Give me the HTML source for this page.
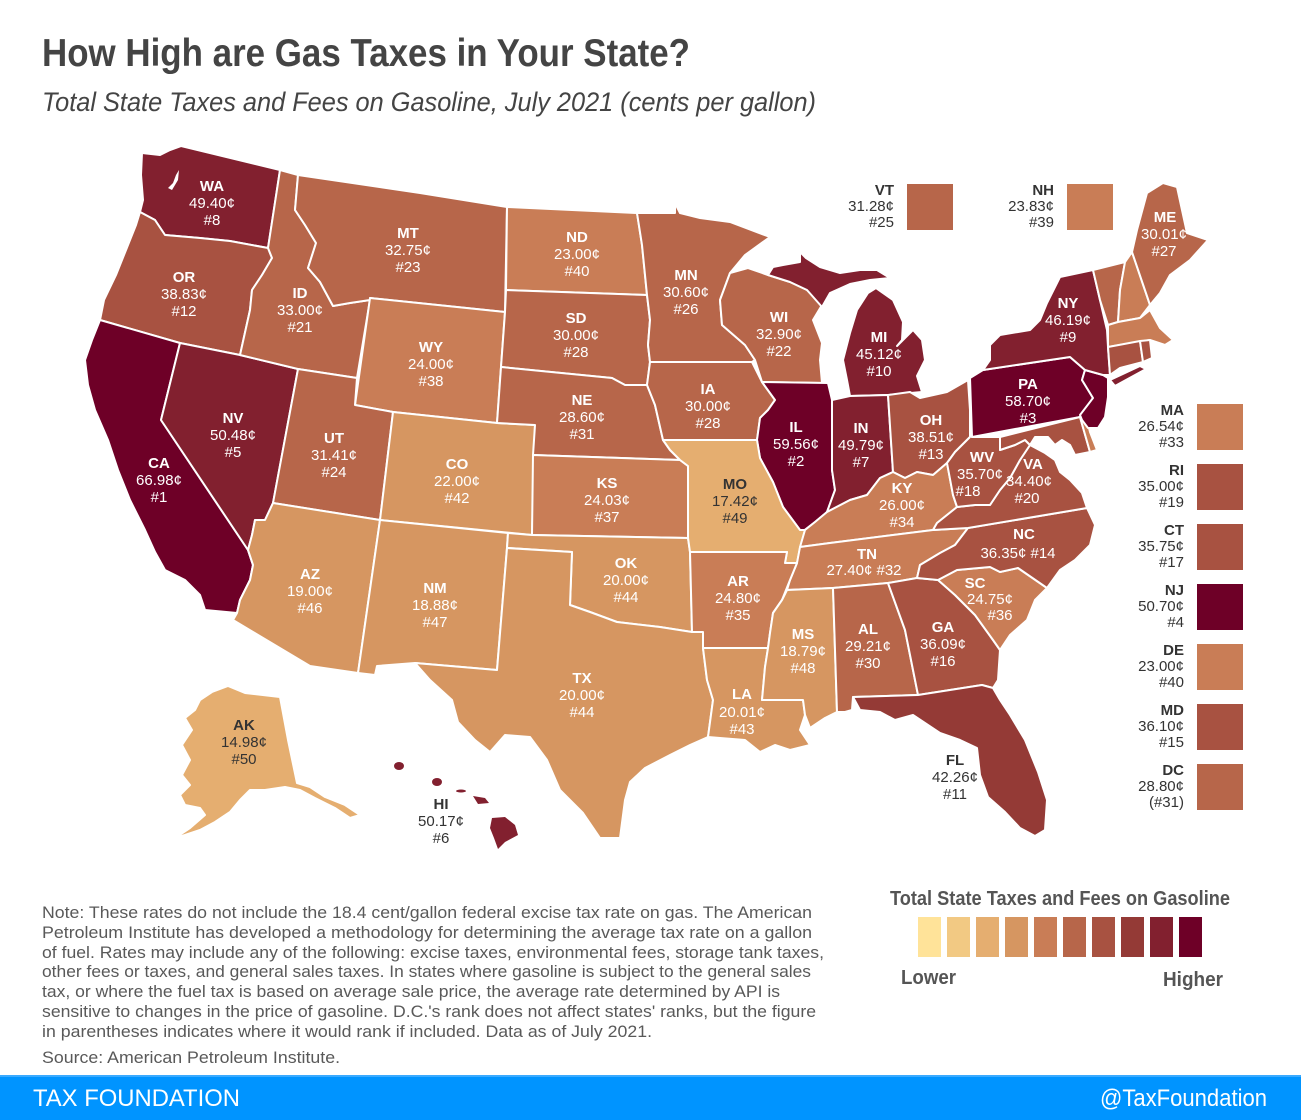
<!DOCTYPE html>
<html><head><meta charset="utf-8"><style>
html,body{margin:0;padding:0;background:#fff;}
svg{display:block;}
.st{stroke:#fff;stroke-width:2;stroke-linejoin:round;}
.c10{fill:#6E0027}.c9{fill:#82202F}.c8{fill:#943A36}.c7{fill:#A85241}.c6{fill:#B7664A}.c5{fill:#C97D56}.c4{fill:#D69661}.c3{fill:#E5AE70}
text{font-family:"Liberation Sans",Arial,sans-serif;}
.lb text{font-size:15px;text-anchor:middle;fill:#fff;}
.lb .a{font-weight:bold;}
.dk text{fill:#333;}
.sd text{font-size:15px;text-anchor:end;fill:#333;}
.sd .a{font-weight:bold;}
.nt{font-size:17px;fill:#595959;}
</style></head><body>
<svg width="1301" height="1120" viewBox="0 0 1301 1120" xmlns="http://www.w3.org/2000/svg">
<rect width="1301" height="1120" fill="#fff"/>
<text x="42" y="66" font-size="39" font-weight="bold" fill="#444" textLength="648" lengthAdjust="spacingAndGlyphs">How High are Gas Taxes in Your State?</text>
<text x="42" y="111" font-size="27" font-style="italic" fill="#444" textLength="774" lengthAdjust="spacingAndGlyphs">Total State Taxes and Fees on Gasoline, July 2021 (cents per gallon)</text>

<g class="st">
<!-- WA -->
<polygon class="c9" points="142,153 160,155 170,150 181,146 280,170 268,248 230,241 200,238 165,235 155,220 140,212 143,200 141,175"/>
<polygon fill="#fff" stroke="none" points="168,188 173,183 176,175 179,170 178,180 172,190"/>
<!-- OR -->
<polygon class="c7" points="140,212 155,220 165,235 200,238 230,241 268,248 272,258 262,275 252,290 250,310 240,355 180,343 100,320 104,300 116,275 128,245 136,225"/>
<!-- CA -->
<polygon class="c10" points="100,320 180,343 161,420 248,550 253,565 250,580 240,600 237,613 205,610 200,595 185,580 165,570 155,552 145,530 130,500 118,470 108,440 95,410 88,385 85,360 92,340"/>
<!-- NV -->
<polygon class="c9" points="180,343 240,355 298,369 273,503 265,520 255,520 252,535 248,550 161,420"/>
<!-- ID -->
<polygon class="c6" points="280,170 298,175 295,210 305,225 316,243 308,268 320,282 333,306 350,303 370,300 357,378 298,369 240,355 250,310 252,290 262,275 272,258 268,248"/>
<!-- MT -->
<polygon class="c6" points="298,175 420,193 507,207 505,312 370,298 370,300 350,303 333,306 320,282 308,268 316,243 305,225 295,210"/>
<!-- WY -->
<polygon class="c5" points="370,298 505,312 497,423 393,412 355,405"/>
<!-- UT -->
<polygon class="c6" points="298,369 357,378 355,405 393,412 380,520 273,503"/>
<!-- CO -->
<polygon class="c4" points="393,412 497,423 535,425 532,535 380,520"/>
<!-- AZ -->
<polygon class="c4" points="273,503 380,520 358,673 310,666 233,620 237,613 240,600 250,580 253,565 248,550 252,535 255,520 265,520"/>
<!-- NM -->
<polygon class="c4" points="380,520 508,533 507,548 497,670 415,663 377,666 375,675 358,673"/>
<!-- ND -->
<polygon class="c5" points="507,207 637,213 642,245 647,295 506,290"/>
<!-- SD -->
<polygon class="c6" points="506,290 647,295 650,320 648,345 650,362 647,385 625,385 612,378 501,367 505,312"/>
<!-- NE -->
<polygon class="c6" points="501,367 612,378 625,385 647,385 655,405 663,440 670,450 680,460 533,455 535,425 497,423"/>
<!-- KS -->
<polygon class="c5" points="533,455 680,460 688,466 688,538 532,535"/>
<!-- OK -->
<polygon class="c4" points="508,533 532,535 688,538 690,552 692,632 660,627 617,622 590,612 570,605 572,552 507,548"/>
<!-- TX -->
<polygon class="c4" points="507,548 572,552 570,605 590,612 617,622 660,627 692,632 703,632 703,648 707,680 713,700 708,737 690,745 670,755 645,768 630,782 625,800 620,838 600,838 583,813 560,790 547,760 530,737 505,735 490,752 475,740 458,722 452,700 430,680 415,663 497,670"/>
<!-- MN -->
<polygon class="c6" points="637,213 675,213 675,203 680,213 700,218 730,222 770,237 745,255 730,273 720,300 722,325 745,345 755,360 752,362 650,362 648,345 650,320 647,295 642,245"/>
<!-- IA -->
<polygon class="c6" points="650,362 752,362 762,382 775,400 768,410 760,418 757,440 663,440 655,405 647,385"/>
<!-- WI -->
<polygon class="c6" points="730,273 748,268 768,275 790,282 807,290 822,305 813,320 822,343 820,360 822,383 762,382 755,360 745,345 722,325 720,300"/>
<!-- MI UP -->
<polygon class="c9" points="768,275 773,267 783,265 800,262 800,252 806,258 820,267 840,273 860,270 877,270 890,278 870,280 850,284 830,293 822,307 807,290 790,282"/>
<!-- MI LP -->
<polygon class="c9" points="850,396 847,380 843,360 850,333 857,310 868,293 876,288 893,300 903,322 902,340 897,346 913,330 922,340 925,360 917,376 922,392 888,395"/>
<!-- IL -->
<polygon class="c10" points="762,382 828,383 832,400 832,470 835,490 827,512 815,522 802,532 800,530 783,507 773,482 760,458 757,440 760,418 768,410 775,400"/>
<!-- IN -->
<polygon class="c9" points="832,400 850,396 888,395 893,472 880,478 867,495 850,500 827,512 835,490 832,470"/>
<!-- OH -->
<polygon class="c7" points="888,395 910,392 920,398 947,392 968,380 970,410 970,437 955,452 947,463 933,475 917,472 905,478 893,472"/>
<!-- MO -->
<polygon class="c3" points="663,440 757,440 760,458 773,482 783,507 800,530 805,530 800,548 797,563 785,563 787,552 690,552 688,538 688,466 680,460 670,450"/>
<!-- KY -->
<polygon class="c5" points="800,547 805,530 815,522 827,512 850,500 867,495 880,478 893,472 905,478 917,472 933,475 947,463 953,495 957,507 937,523 933,530 830,543"/>
<!-- TN -->
<polygon class="c5" points="800,547 830,543 933,530 968,528 955,545 940,553 920,565 917,578 888,583 833,588 787,590 790,580 797,563"/>
<!-- AR -->
<polygon class="c5" points="690,552 787,552 785,563 797,563 790,580 782,600 773,613 770,633 768,648 703,648 703,632 692,632"/>
<!-- LA -->
<polygon class="c4" points="703,648 768,648 765,667 762,700 803,700 805,715 800,730 810,745 790,750 775,745 760,752 745,740 720,738 708,737 713,700 707,680"/>
<!-- MS -->
<polygon class="c4" points="787,590 833,588 835,650 837,712 825,718 810,728 805,715 803,700 762,700 765,667 768,648 770,633 773,613 782,600"/>
<!-- AL -->
<polygon class="c6" points="833,588 888,583 905,630 912,665 918,695 853,697 852,710 845,712 837,712 835,650"/>
<!-- GA -->
<polygon class="c7" points="888,583 917,578 938,580 955,595 975,615 993,640 1000,650 998,680 993,688 982,685 918,695 912,665 905,630"/>
<!-- FL -->
<polygon class="c8" points="853,697 918,695 982,685 993,688 1000,700 1010,715 1025,740 1038,772 1047,800 1045,830 1035,836 1020,828 1005,812 988,797 980,775 977,748 960,740 940,733 913,715 895,720 880,712 860,710"/>
<!-- SC -->
<polygon class="c5" points="938,580 957,570 990,567 1000,572 1018,568 1047,588 1035,600 1027,620 1010,635 1000,650 993,640 975,615 955,595"/>
<!-- NC -->
<polygon class="c7" points="917,578 920,565 940,553 955,545 968,528 1087,508 1095,525 1090,545 1075,560 1060,570 1047,588 1018,568 1000,572 990,567 957,570 938,580"/>
<!-- VA -->
<polygon class="c7" points="933,530 937,523 957,507 975,505 990,505 1000,490 1010,478 1020,460 1030,445 1045,453 1055,460 1060,472 1070,480 1082,493 1087,508 968,528"/>
<!-- WV -->
<polygon class="c7" points="970,410 972,437 1000,437 1000,450 1015,445 1025,440 1030,445 1020,460 1010,478 1000,490 990,505 975,505 957,507 953,495 947,463 955,452 970,437"/>
<!-- PA -->
<polygon class="c10" points="970,378 983,370 1070,357 1085,370 1082,380 1093,398 1080,417 972,437"/>
<!-- MD -->
<polygon class="c7" points="1000,437 1080,417 1090,452 1075,455 1070,445 1062,440 1055,445 1048,437 1035,437 1030,445 1025,440 1015,445 1000,450"/>
<!-- DE -->
<polygon class="c5" points="1080,417 1086,416 1090,432 1097,450 1090,452"/>
<!-- NJ -->
<polygon class="c10" points="1085,370 1103,375 1108,378 1108,397 1105,417 1098,428 1088,428 1082,420 1080,415 1093,398 1082,380"/>
<!-- NY -->
<polygon class="c9" points="983,370 990,360 990,345 1000,335 1030,330 1040,320 1047,303 1060,277 1093,270 1100,300 1107,330 1108,347 1110,375 1103,375 1085,370 1070,357"/>
<polygon class="c9" points="1110,380 1140,366 1146,369 1115,386"/>
<!-- VT -->
<polygon class="c6" points="1093,270 1125,262 1120,290 1118,322 1108,325 1100,300"/>
<!-- NH -->
<polygon class="c5" points="1125,262 1132,252 1150,305 1140,318 1118,322 1120,290"/>
<!-- ME -->
<polygon class="c6" points="1132,252 1137,230 1147,193 1163,183 1177,187 1187,233 1208,240 1190,260 1170,275 1160,293 1150,305"/>
<!-- MA -->
<polygon class="c5" points="1108,325 1118,322 1140,318 1150,310 1160,328 1173,340 1165,345 1150,340 1108,347"/>
<!-- CT -->
<polygon class="c7" points="1108,347 1140,341 1143,362 1120,368 1110,375"/>
<!-- RI -->
<polygon class="c7" points="1140,341 1150,340 1152,358 1143,362"/>
<!-- AK -->
<polygon class="c3" points="200,700 212,692 228,686 245,693 280,697 288,740 297,783 310,787 325,797 345,805 360,815 350,818 335,808 315,798 300,790 285,787 265,790 250,790 240,800 230,812 215,822 200,830 185,835 175,838 190,828 205,815 200,808 185,805 180,795 190,785 182,775 190,760 182,745 192,730 185,718 195,710"/>
</g>
<!-- HI -->
<g class="c9">
<ellipse cx="399" cy="766" rx="5" ry="4"/>
<ellipse cx="437" cy="782" rx="5" ry="4"/>
<ellipse cx="461" cy="791" rx="5" ry="1.5"/>
<polygon points="473,796 485,798 489,803 478,804"/>
<polygon points="492,818 505,817 515,825 518,835 505,842 498,849 494,838 490,828"/>
</g>

<!-- map labels -->
<g class="lb">
<text class="a" x="212" y="191">WA</text><text x="212" y="208">49.40¢</text><text x="212" y="225">#8</text>
<text class="a" x="184" y="282">OR</text><text x="184" y="299">38.83¢</text><text x="184" y="316">#12</text>
<text class="a" x="159" y="468">CA</text><text x="159" y="485">66.98¢</text><text x="159" y="502">#1</text>
<text class="a" x="233" y="423">NV</text><text x="233" y="440">50.48¢</text><text x="233" y="457">#5</text>
<text class="a" x="300" y="298">ID</text><text x="300" y="315">33.00¢</text><text x="300" y="332">#21</text>
<text class="a" x="408" y="238">MT</text><text x="408" y="255">32.75¢</text><text x="408" y="272">#23</text>
<text class="a" x="431" y="352">WY</text><text x="431" y="369">24.00¢</text><text x="431" y="386">#38</text>
<text class="a" x="334" y="443">UT</text><text x="334" y="460">31.41¢</text><text x="334" y="477">#24</text>
<text class="a" x="457" y="469">CO</text><text x="457" y="486">22.00¢</text><text x="457" y="503">#42</text>
<text class="a" x="310" y="579">AZ</text><text x="310" y="596">19.00¢</text><text x="310" y="613">#46</text>
<text class="a" x="435" y="593">NM</text><text x="435" y="610">18.88¢</text><text x="435" y="627">#47</text>
<text class="a" x="577" y="242">ND</text><text x="577" y="259">23.00¢</text><text x="577" y="276">#40</text>
<text class="a" x="576" y="323">SD</text><text x="576" y="340">30.00¢</text><text x="576" y="357">#28</text>
<text class="a" x="582" y="405">NE</text><text x="582" y="422">28.60¢</text><text x="582" y="439">#31</text>
<text class="a" x="607" y="488">KS</text><text x="607" y="505">24.03¢</text><text x="607" y="522">#37</text>
<text class="a" x="626" y="568">OK</text><text x="626" y="585">20.00¢</text><text x="626" y="602">#44</text>
<text class="a" x="582" y="683">TX</text><text x="582" y="700">20.00¢</text><text x="582" y="717">#44</text>
<text class="a" x="686" y="280">MN</text><text x="686" y="297">30.60¢</text><text x="686" y="314">#26</text>
<text class="a" x="708" y="394">IA</text><text x="708" y="411">30.00¢</text><text x="708" y="428">#28</text>
<text class="a" x="779" y="322">WI</text><text x="779" y="339">32.90¢</text><text x="779" y="356">#22</text>
<text class="a" x="879" y="342">MI</text><text x="879" y="359">45.12¢</text><text x="879" y="376">#10</text>
<text class="a" x="796" y="432">IL</text><text x="796" y="449">59.56¢</text><text x="796" y="466">#2</text>
<text class="a" x="861" y="433">IN</text><text x="861" y="450">49.79¢</text><text x="861" y="467">#7</text>
<text class="a" x="738" y="586">AR</text><text x="738" y="603">24.80¢</text><text x="738" y="620">#35</text>
<text class="a" x="742" y="699">LA</text><text x="742" y="717">20.01¢</text><text x="742" y="734">#43</text>
<text class="a" x="803" y="639">MS</text><text x="803" y="656">18.79¢</text><text x="803" y="673">#48</text>
<text class="a" x="868" y="634">AL</text><text x="868" y="651">29.21¢</text><text x="868" y="668">#30</text>
<text class="a" x="943" y="632">GA</text><text x="943" y="649">36.09¢</text><text x="943" y="666">#16</text>
<text class="a" x="975" y="588">SC</text><text x="990" y="604">24.75¢</text><text x="1000" y="620">#36</text>
<text class="a" x="1024" y="539">NC</text><text x="1018" y="558">36.35¢  #14</text>
<text class="a" x="867" y="559">TN</text><text x="864" y="575">27.40¢  #32</text>
<text class="a" x="902" y="493">KY</text><text x="902" y="510">26.00¢</text><text x="902" y="527">#34</text>
<text class="a" x="982" y="462">WV</text><text x="980" y="479">35.70¢</text><text x="968" y="496">#18</text>
<text class="a" x="1033" y="469">VA</text><text x="1029" y="486">34.40¢</text><text x="1027" y="503">#20</text>
<text class="a" x="931" y="425">OH</text><text x="931" y="442">38.51¢</text><text x="931" y="459">#13</text>
<text class="a" x="1068" y="308">NY</text><text x="1068" y="325">46.19¢</text><text x="1068" y="342">#9</text>
<text class="a" x="1028" y="389">PA</text><text x="1028" y="406">58.70¢</text><text x="1028" y="423">#3</text>
<text class="a" x="1165" y="222">ME</text><text x="1164" y="239">30.01¢</text><text x="1164" y="256">#27</text>
</g>
<g class="lb dk">
<text class="a" x="735" y="489">MO</text><text x="735" y="506">17.42¢</text><text x="735" y="523">#49</text>
<text class="a" x="955" y="765">FL</text><text x="955" y="782">42.26¢</text><text x="955" y="799">#11</text>
<text class="a" x="244" y="730">AK</text><text x="244" y="747">14.98¢</text><text x="244" y="764">#50</text>
<text class="a" x="441" y="809">HI</text><text x="441" y="826">50.17¢</text><text x="441" y="843">#6</text>
</g>

<!-- side legend boxes -->
<rect class="c6" x="907" y="184" width="46" height="46"/>
<rect class="c5" x="1067" y="184" width="46" height="46"/>
<rect class="c5" x="1197" y="404" width="46" height="46"/>
<rect class="c7" x="1197" y="464" width="46" height="46"/>
<rect class="c7" x="1197" y="524" width="46" height="46"/>
<rect class="c10" x="1197" y="584" width="46" height="46"/>
<rect class="c5" x="1197" y="644" width="46" height="46"/>
<rect class="c7" x="1197" y="704" width="46" height="46"/>
<rect class="c6" x="1197" y="764" width="46" height="46"/>
<g class="sd">
<text class="a" x="894" y="195">VT</text><text x="894" y="211">31.28¢</text><text x="894" y="227">#25</text>
<text class="a" x="1054" y="195">NH</text><text x="1054" y="211">23.83¢</text><text x="1054" y="227">#39</text>
<text class="a" x="1184" y="415">MA</text><text x="1184" y="431">26.54¢</text><text x="1184" y="447">#33</text>
<text class="a" x="1184" y="475">RI</text><text x="1184" y="491">35.00¢</text><text x="1184" y="507">#19</text>
<text class="a" x="1184" y="535">CT</text><text x="1184" y="551">35.75¢</text><text x="1184" y="567">#17</text>
<text class="a" x="1184" y="595">NJ</text><text x="1184" y="611">50.70¢</text><text x="1184" y="627">#4</text>
<text class="a" x="1184" y="655">DE</text><text x="1184" y="671">23.00¢</text><text x="1184" y="687">#40</text>
<text class="a" x="1184" y="715">MD</text><text x="1184" y="731">36.10¢</text><text x="1184" y="747">#15</text>
<text class="a" x="1184" y="775">DC</text><text x="1184" y="791">28.80¢</text><text x="1184" y="807">(#31)</text>
</g>

<!-- bottom legend -->
<text x="890" y="905" font-size="20" font-weight="bold" fill="#555" textLength="340" lengthAdjust="spacingAndGlyphs">Total State Taxes and Fees on Gasoline</text>
<rect x="918" y="917" width="23" height="40" fill="#FFE399"/>
<rect x="947" y="917" width="23" height="40" fill="#F2C983"/>
<rect x="976" y="917" width="23" height="40" fill="#E5AE70"/>
<rect x="1005" y="917" width="23" height="40" fill="#D69661"/>
<rect x="1034" y="917" width="23" height="40" fill="#C97D56"/>
<rect x="1063" y="917" width="23" height="40" fill="#B7664A"/>
<rect x="1092" y="917" width="23" height="40" fill="#A85241"/>
<rect x="1121" y="917" width="23" height="40" fill="#943A36"/>
<rect x="1150" y="917" width="23" height="40" fill="#82202F"/>
<rect x="1179" y="917" width="23" height="40" fill="#6E0027"/>
<text x="901" y="984" font-size="20" font-weight="bold" fill="#555" textLength="55" lengthAdjust="spacingAndGlyphs">Lower</text>
<text x="1163" y="986" font-size="20" font-weight="bold" fill="#555" textLength="60" lengthAdjust="spacingAndGlyphs">Higher</text>

<!-- notes -->
<g class="nt">
<text x="42" y="918" textLength="770" lengthAdjust="spacingAndGlyphs">Note: These rates do not include the 18.4 cent/gallon federal excise tax rate on gas. The American</text>
<text x="42" y="938" textLength="770" lengthAdjust="spacingAndGlyphs">Petroleum Institute has developed a methodology for determining the average tax rate on a gallon</text>
<text x="42" y="958" textLength="782" lengthAdjust="spacingAndGlyphs">of fuel. Rates may include any of the following: excise taxes, environmental fees, storage tank taxes,</text>
<text x="42" y="977" textLength="769" lengthAdjust="spacingAndGlyphs">other fees or taxes, and general sales taxes. In states where gasoline is subject to the general sales</text>
<text x="42" y="997" textLength="738" lengthAdjust="spacingAndGlyphs">tax, or where the fuel tax is based on average sale price, the average rate determined by API is</text>
<text x="42" y="1017" textLength="774" lengthAdjust="spacingAndGlyphs">sensitive to changes in the price of gasoline. D.C.'s rank does not affect states' ranks, but the figure</text>
<text x="42" y="1037" textLength="610" lengthAdjust="spacingAndGlyphs">in parentheses indicates where it would rank if included. Data as of July 2021.</text>
<text x="42" y="1063" textLength="298" lengthAdjust="spacingAndGlyphs">Source: American Petroleum Institute.</text>
</g>

<!-- footer -->
<rect x="0" y="1075" width="1301" height="45" fill="#0094FF"/>
<rect x="0" y="1075" width="1301" height="2" fill="#3AAAFF"/>
<text x="33" y="1106" font-size="24" fill="#fff" textLength="207" lengthAdjust="spacingAndGlyphs">TAX FOUNDATION</text>
<text x="1267" y="1106" font-size="24" fill="#fff" text-anchor="end" textLength="167" lengthAdjust="spacingAndGlyphs">@TaxFoundation</text>
</svg>
</body></html>
